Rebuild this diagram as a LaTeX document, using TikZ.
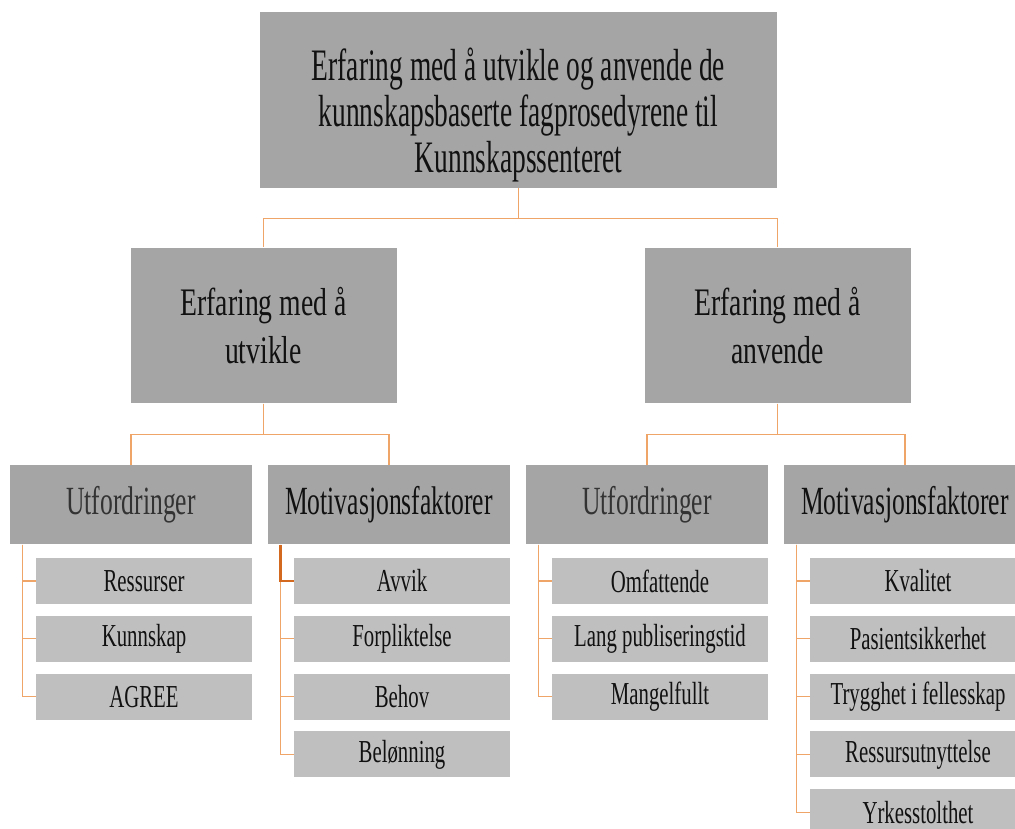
\documentclass[tikz,border=0pt]{standalone}
\usepackage{fontspec}
\setmainfont{Liberation Serif}
\newfontfamily\headfont[FakeStretch=0.61]{Liberation Serif}
\newfontfamily\branchfont[FakeStretch=0.71]{Liberation Serif}
\newfontfamily\groupfont[FakeStretch=0.64]{Liberation Serif}
\newfontfamily\itemfont[FakeStretch=0.65]{Liberation Serif}
\usetikzlibrary{positioning,calc}
\definecolor{ink}{HTML}{111111}
\definecolor{soft}{HTML}{333333}
\definecolor{dark}{HTML}{A5A5A5}
\definecolor{light}{HTML}{BFBFBF}
\definecolor{wire}{HTML}{EFA468}
\definecolor{wirehot}{HTML}{D2691E}
\tikzset{
  every picture/.style={line width=1pt, text=ink},
  head/.style={fill=dark, inner sep=0pt, align=center, minimum width=517pt, minimum height=176pt, font=\headfont\fontsize{45}{46}\selectfont},
  branch/.style={fill=dark, inner sep=0pt, align=center, minimum width=266pt, minimum height=155pt, font=\branchfont\fontsize{39}{48}\selectfont},
  group/.style={fill=dark, inner sep=0pt, minimum width=242pt, minimum height=79pt, font=\groupfont\fontsize{40}{44}\selectfont},
  item/.style={fill=light, inner sep=0pt, minimum width=216pt, minimum height=46pt, font=\itemfont\fontsize{32}{34}\selectfont},
  link/.style={draw=wire, line width=1.2pt},
  hotlink/.style={draw=wirehot, line width=2.2pt},
}
\begin{document}
\begin{tikzpicture}[x=1pt, y=-1pt]
\useasboundingbox[fill=white] (0,0) rectangle (1015,829);
\node[head] (top) at (518.5,100) {\rule{0pt}{62pt}Erfaring med å utvikle og anvende de\\kunnskapsbaserte fagprosedyrene til\\Kunnskapssenteret};
\node[branch] (dev) at (263.5,325.5) {Erfaring med å\\utvikle};
\node[branch] (use) at (777.5,325.5) {Erfaring med å\\anvende};
\node[group, text=soft] (devch) at (131,504.5) {Utfordringer};
\node[group] (devmot) at (389,504.5) {Motivasjonsfaktorer};
\node[group, text=soft] (usech) at (647,504.5) {Utfordringer};
\node[group] (usemot) at (905,504.5) {Motivasjonsfaktorer};
\foreach \g/\k/\t in {devch/1/Ressurser, devch/2/Kunnskap, devch/3/AGREE,
    devmot/1/Avvik, devmot/2/Forpliktelse, devmot/3/Behov, devmot/4/Belønning,
    usech/1/Omfattende, usech/2/Lang publiseringstid, usech/3/Mangelfullt,
    usemot/1/Kvalitet, usemot/2/Pasientsikkerhet, usemot/3/Trygghet i fellesskap, usemot/4/Ressursutnyttelse, usemot/5/Yrkesstolthet}
  \node[item, anchor=north east] (\g\k) at ($(\g.south east)+(0,13+57.8*\k-57.8)$) {\t};
\draw[link] (top.south) -- ++(0,30) -| (dev.north);
\draw[link] (top.south) -- ++(0,30) -| (use.north);
\foreach \b/\l/\r in {dev/devch/devmot, use/usech/usemot} {
  \draw[link] (\b.south) -- ++(0,31) -| (\l.north);
  \draw[link] (\b.south) -- ++(0,31) -| (\r.north);
}
\foreach \g/\k in {devch/1, devch/2, devch/3, devmot/2, devmot/3, devmot/4,
    usech/1, usech/2, usech/3, usemot/1, usemot/2, usemot/3, usemot/4, usemot/5}
  \draw[link] ([xshift=13pt]\g.south west) |- (\g\k.west);
\draw[hotlink] ([xshift=13pt]devmot.south west) |- (devmot1.west);
\end{tikzpicture}
\end{document}
